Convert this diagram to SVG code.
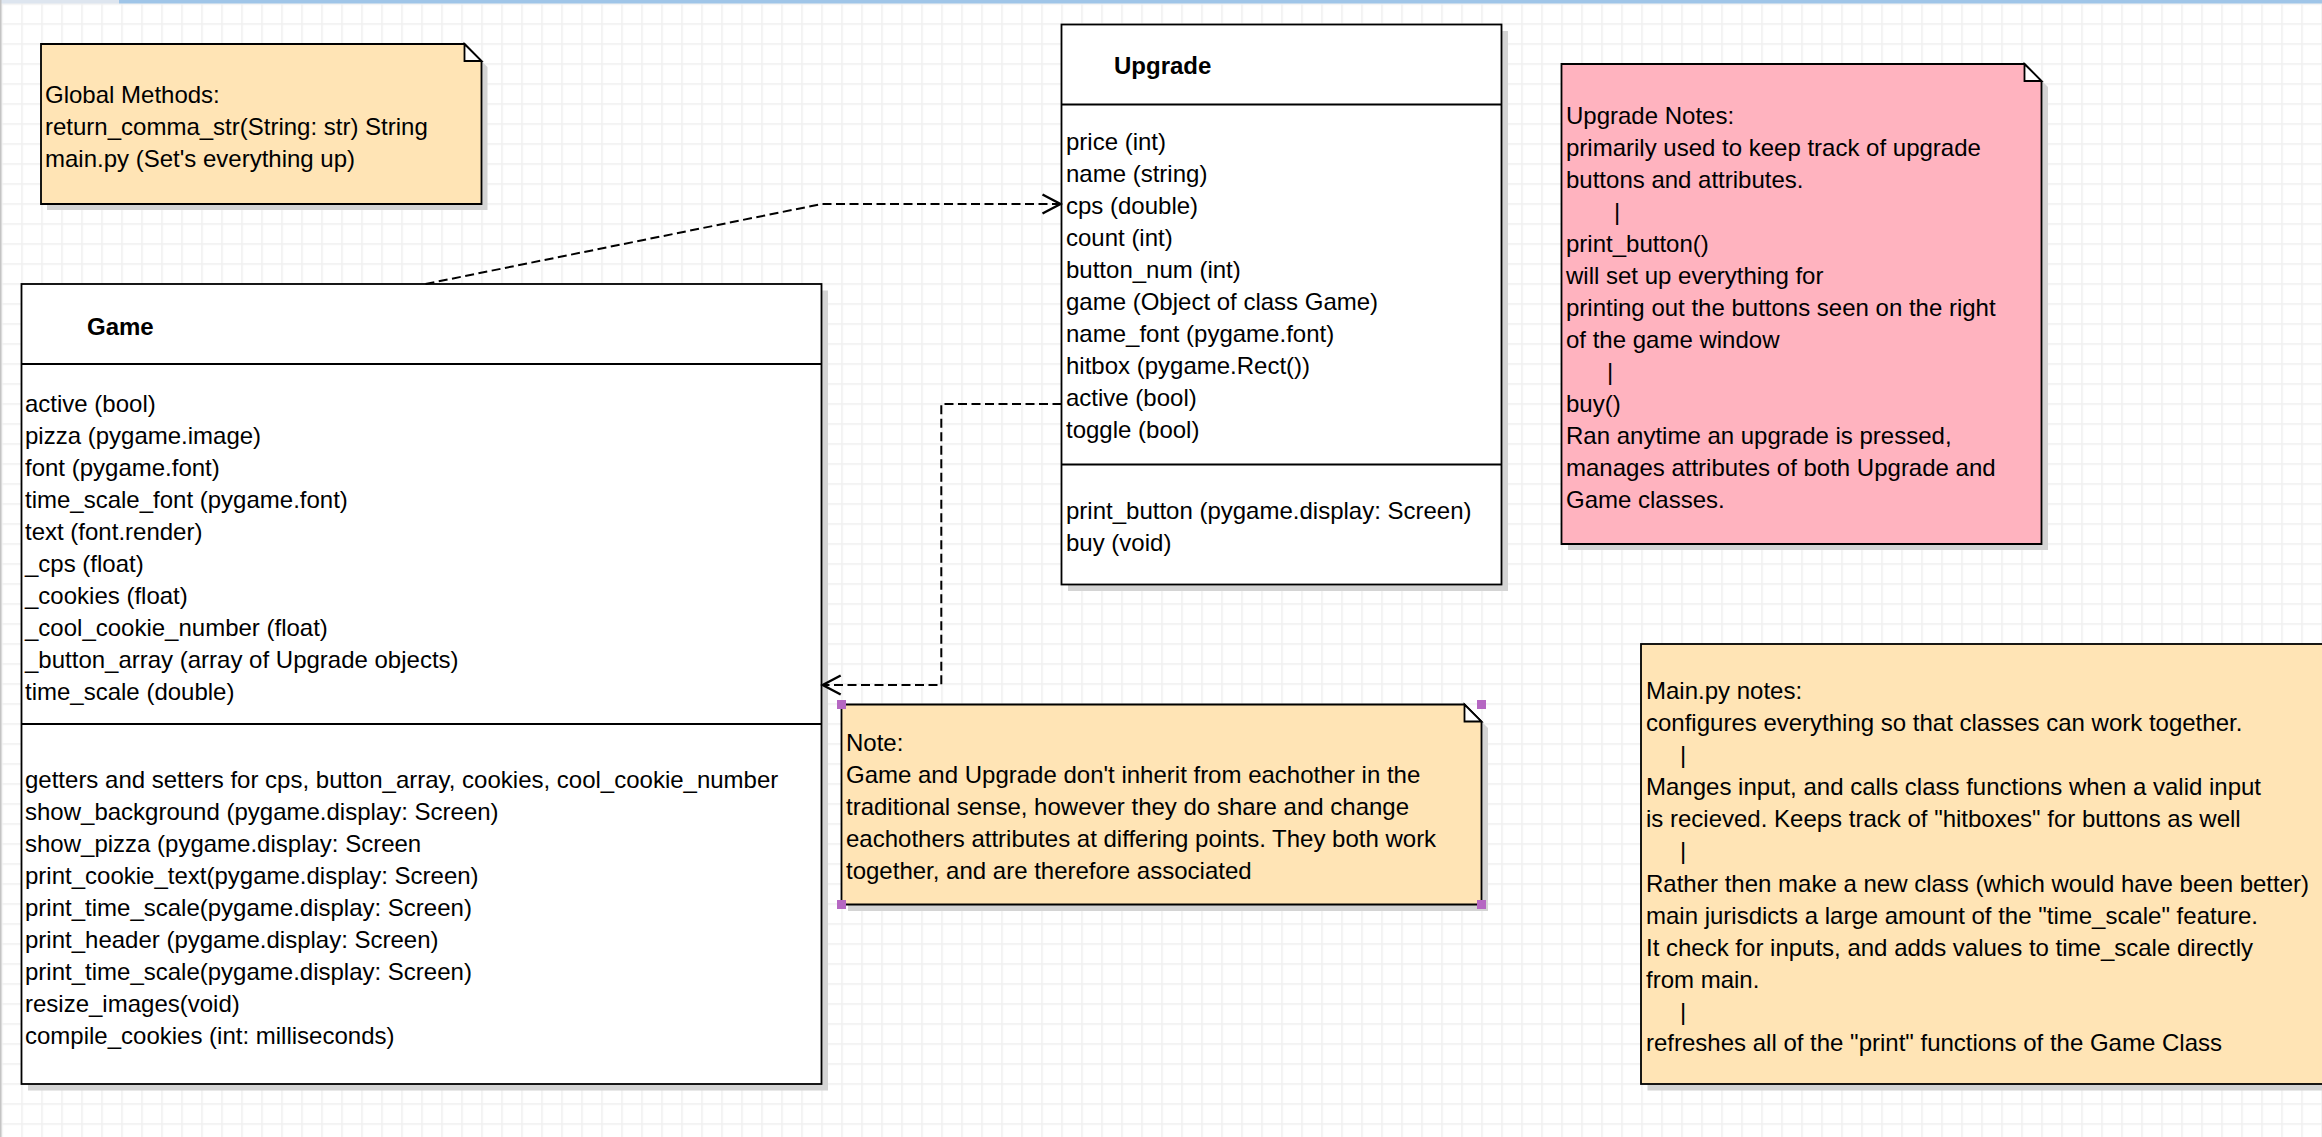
<svg xmlns="http://www.w3.org/2000/svg" width="2322" height="1137" viewBox="0 0 2322 1137">
  <defs>
    <pattern id="grid" x="1.25" y="3.25" width="20" height="20" patternUnits="userSpaceOnUse">
      <rect x="0" y="0" width="1.5" height="20" fill="#efefef"/>
      <rect x="0" y="0" width="20" height="1.5" fill="#efefef"/>
    </pattern>
    <marker id="open-arrow" viewBox="-22 -12 26 24" refX="0" refY="0" markerWidth="26" markerHeight="24" markerUnits="userSpaceOnUse" orient="auto">
      <path d="M -18 -9.5 L 0 0 L -18 9.5" fill="none" stroke="#000" stroke-width="2.4" stroke-linejoin="miter"/>
    </marker>
  </defs>
  <style>
    text { font-family: "Liberation Sans", Arial, sans-serif; font-size: 24px; fill: #000; }
    .title { font-weight: bold; }
    .box { fill: #ffffff; stroke: #000; stroke-width: 1.8; }
    .div { stroke: #000; stroke-width: 1.8; fill: none; }
    .shadow { fill: #d4d4d4; stroke: none; }
    .note-yellow { fill: #ffe4b5; stroke: #000; stroke-width: 1.8; stroke-linejoin: miter; }
    .note-pink { fill: #ffb3bf; stroke: #000; stroke-width: 1.8; stroke-linejoin: miter; }
    .fold { fill: #ffffff; stroke: #000; stroke-width: 1.8; stroke-linejoin: miter; }
    .edge { fill: none; stroke: #000; stroke-width: 2; stroke-dasharray: 9 4.5; marker-end: url(#open-arrow); }
    .handle { fill: #b567c2; }
  </style>

  <!-- canvas -->
  <rect x="0" y="0" width="2322" height="1137" fill="#ffffff"/>
  <rect x="0" y="0" width="2322" height="1137" fill="url(#grid)"/>
  <rect x="0" y="0" width="119" height="3.5" fill="#dde5ef"/>
  <rect x="119" y="0" width="2203" height="3.5" fill="#9fc5e8"/>
  <rect x="0" y="0" width="1.5" height="1137" fill="#c4c4c4"/>

  <!-- Global Methods note -->
  <g id="global-methods-note">
    <path class="shadow" d="M 47 50 L 470.5 50 L 487.5 67 L 487.5 210 L 47 210 Z"/>
    <path class="note-yellow" d="M 41 44 L 464.5 44 L 481.5 61 L 481.5 204 L 41 204 Z"/>
    <path class="fold" d="M 464.5 44 L 464.5 61 L 481.5 61 Z"/>
    <text x="45" y="102.5">Global Methods:</text>
    <text x="45" y="134.5">return_comma_str(String: str) String</text>
    <text x="45" y="166.5">main.py (Set's everything up)</text>
  </g>

  <!-- Game class -->
  <g id="game-class">
    <rect class="shadow" x="28" y="290.5" width="800" height="800"/>
    <rect class="box" x="21.5" y="284" width="800" height="800"/>
    <line class="div" x1="21.5" y1="364" x2="821.5" y2="364"/>
    <line class="div" x1="21.5" y1="724" x2="821.5" y2="724"/>
    <text class="title" x="87" y="334.5">Game</text>
    <text x="25" y="411.5">active (bool)</text>
    <text x="25" y="443.5">pizza (pygame.image)</text>
    <text x="25" y="475.5">font (pygame.font)</text>
    <text x="25" y="507.5">time_scale_font (pygame.font)</text>
    <text x="25" y="539.5">text (font.render)</text>
    <text x="25" y="571.5">_cps (float)</text>
    <text x="25" y="603.5">_cookies (float)</text>
    <text x="25" y="635.5">_cool_cookie_number (float)</text>
    <text x="25" y="667.5">_button_array (array of Upgrade objects)</text>
    <text x="25" y="699.5">time_scale (double)</text>
    <text x="25" y="788">getters and setters for cps, button_array, cookies, cool_cookie_number</text>
    <text x="25" y="820">show_background (pygame.display: Screen)</text>
    <text x="25" y="852">show_pizza (pygame.display: Screen</text>
    <text x="25" y="884">print_cookie_text(pygame.display: Screen)</text>
    <text x="25" y="916">print_time_scale(pygame.display: Screen)</text>
    <text x="25" y="948">print_header (pygame.display: Screen)</text>
    <text x="25" y="980">print_time_scale(pygame.display: Screen)</text>
    <text x="25" y="1012">resize_images(void)</text>
    <text x="25" y="1044">compile_cookies (int: milliseconds)</text>
  </g>

  <!-- Upgrade class -->
  <g id="upgrade-class">
    <rect class="shadow" x="1068" y="31" width="440" height="560"/>
    <rect class="box" x="1061.5" y="24.5" width="440" height="560"/>
    <line class="div" x1="1061.5" y1="104.5" x2="1501.5" y2="104.5"/>
    <line class="div" x1="1061.5" y1="464.5" x2="1501.5" y2="464.5"/>
    <text class="title" x="1114" y="74">Upgrade</text>
    <text x="1066" y="150">price (int)</text>
    <text x="1066" y="182">name (string)</text>
    <text x="1066" y="214">cps (double)</text>
    <text x="1066" y="246">count (int)</text>
    <text x="1066" y="278">button_num (int)</text>
    <text x="1066" y="310">game (Object of class Game)</text>
    <text x="1066" y="342">name_font (pygame.font)</text>
    <text x="1066" y="374">hitbox (pygame.Rect())</text>
    <text x="1066" y="406">active (bool)</text>
    <text x="1066" y="438">toggle (bool)</text>
    <text x="1066" y="519">print_button (pygame.display: Screen)</text>
    <text x="1066" y="551">buy (void)</text>
  </g>

  <!-- Upgrade notes -->
  <g id="upgrade-notes">
    <path class="shadow" d="M 1568 70 L 2031 70 L 2048 87 L 2048 550 L 1568 550 Z"/>
    <path class="note-pink" d="M 1561.5 64 L 2024.5 64 L 2041.5 81 L 2041.5 544 L 1561.5 544 Z"/>
    <path class="fold" d="M 2024.5 64 L 2024.5 81 L 2041.5 81 Z"/>
    <text x="1566" y="123.5">Upgrade Notes:</text>
    <text x="1566" y="155.5">primarily used to keep track of upgrade</text>
    <text x="1566" y="187.5">buttons and attributes.</text>
    <text x="1614" y="219.5">|</text>
    <text x="1566" y="251.5">print_button()</text>
    <text x="1566" y="283.5">will set up everything for</text>
    <text x="1566" y="315.5">printing out the buttons seen on the right</text>
    <text x="1566" y="347.5">of the game window</text>
    <text x="1607" y="379.5">|</text>
    <text x="1566" y="411.5">buy()</text>
    <text x="1566" y="443.5">Ran anytime an upgrade is pressed,</text>
    <text x="1566" y="475.5">manages attributes of both Upgrade and</text>
    <text x="1566" y="507.5">Game classes.</text>
  </g>

  <!-- Association note -->
  <g id="association-note">
    <path class="shadow" d="M 848 711 L 1471 711 L 1488 728 L 1488 911 L 848 911 Z"/>
    <path class="note-yellow" d="M 841.5 704.5 L 1464.5 704.5 L 1481.5 721.5 L 1481.5 904.5 L 841.5 904.5 Z"/>
    <path class="fold" d="M 1464.5 704.5 L 1464.5 721.5 L 1481.5 721.5 Z"/>
    <text x="846" y="751">Note:</text>
    <text x="846" y="783">Game and Upgrade don't inherit from eachother in the</text>
    <text x="846" y="815">traditional sense, however they do share and change</text>
    <text x="846" y="847">eachothers attributes at differing points. They both work</text>
    <text x="846" y="879">together, and are therefore associated</text>
    <rect class="handle" x="837" y="700" width="9" height="9"/>
    <rect class="handle" x="1477" y="700" width="9" height="9"/>
    <rect class="handle" x="837" y="900" width="9" height="9"/>
    <rect class="handle" x="1477" y="900" width="9" height="9"/>
  </g>

  <!-- Main.py notes -->
  <g id="main-notes">
    <rect class="shadow" x="1647.5" y="650.5" width="700" height="440"/>
    <rect class="note-yellow" x="1641" y="644" width="700" height="440"/>
    <text x="1646" y="699">Main.py notes:</text>
    <text x="1646" y="731">configures everything so that classes can work together.</text>
    <text x="1680" y="763">|</text>
    <text x="1646" y="795">Manges input, and calls class functions when a valid input</text>
    <text x="1646" y="827">is recieved. Keeps track of "hitboxes" for buttons as well</text>
    <text x="1680" y="859">|</text>
    <text x="1646" y="892">Rather then make a new class (which would have been better)</text>
    <text x="1646" y="924">main jurisdicts a large amount of the "time_scale" feature.</text>
    <text x="1646" y="956">It check for inputs, and adds values to time_scale directly</text>
    <text x="1646" y="988">from main.</text>
    <text x="1680" y="1020">|</text>
    <text x="1646" y="1051">refreshes all of the "print" functions of the Game Class</text>
  </g>

  <!-- associations between Game and Upgrade -->
  <g id="connectors">
    <path class="edge" d="M 425.5 284 L 821.7 204 L 1060.5 204"/>
    <path class="edge" d="M 1061.5 404 L 941.3 404 L 941.3 685 L 822.7 685"/>
  </g>
</svg>
